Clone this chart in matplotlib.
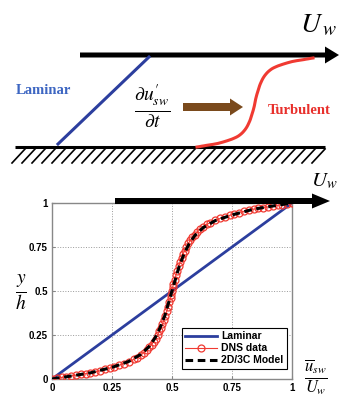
"""Laminar vs turbulent Couette profile: schematic plus DNS / 2D-3C comparison."""

import matplotlib

matplotlib.use("Agg")
import matplotlib.pyplot as plt
from matplotlib.patches import FancyArrow

plt.rcParams["mathtext.fontset"] = "stix"

# mean velocity profiles, u_sw/U_w vs y/h
laminar_u = [0.0, 1.0]
laminar_y = [0.0, 1.0]

dns_u = [0, 0.02, 0.04, 0.06, 0.08, 0.10, 0.12, 0.14, 0.16, 0.18, 0.2, 0.22, 0.24, 0.26,
         0.28, 0.30, 0.32, 0.34, 0.355, 0.37, 0.383, 0.395, 0.405, 0.415, 0.424, 0.432,
         0.44, 0.447, 0.454, 0.46, 0.466, 0.472, 0.478, 0.484, 0.489, 0.494, 0.497, 0.5,
         0.503, 0.506, 0.511, 0.516, 0.522, 0.528, 0.534, 0.54, 0.546, 0.553, 0.56,
         0.568, 0.576, 0.585, 0.595, 0.605, 0.617, 0.63, 0.645, 0.66, 0.68, 0.70, 0.72,
         0.74, 0.76, 0.78, 0.80, 0.82, 0.84, 0.86, 0.88, 0.90, 0.92, 0.94, 0.96, 0.98,
         1.0]
dns_y = [0, 0.004, 0.009, 0.013, 0.018, 0.022, 0.026, 0.03, 0.035, 0.04, 0.047, 0.054,
         0.062, 0.07, 0.079, 0.088, 0.099, 0.111, 0.122, 0.136, 0.15, 0.165, 0.18, 0.196,
         0.213, 0.23, 0.25, 0.27, 0.29, 0.31, 0.335, 0.36, 0.385, 0.41, 0.435, 0.46, 0.48,
         0.5, 0.52, 0.54, 0.565, 0.59, 0.615, 0.64, 0.665, 0.69, 0.71, 0.73, 0.75, 0.77,
         0.787, 0.804, 0.82, 0.835, 0.85, 0.864, 0.878, 0.889, 0.901, 0.912, 0.921, 0.93,
         0.938, 0.946, 0.953, 0.96, 0.965, 0.97, 0.974, 0.978, 0.982, 0.987, 0.991, 0.996,
         1.0]

model_u = [0, 0.08, 0.16, 0.25, 0.32, 0.37, 0.405, 0.43, 0.45, 0.47, 0.485, 0.5, 0.515,
           0.53, 0.55, 0.57, 0.595, 0.63, 0.68, 0.75, 0.84, 0.92, 1.0]
model_y = [0, 0.017, 0.035, 0.066, 0.1, 0.14, 0.185, 0.235, 0.29, 0.36, 0.43, 0.5, 0.57,
           0.64, 0.71, 0.765, 0.815, 0.86, 0.9, 0.932, 0.965, 0.983, 1.0]

ticks = [0, 0.25, 0.5, 0.75, 1]
tick_labels = ["0", "0.25", "0.5", "0.75", "1"]
legend_labels = ["Laminar", "DNS data", "2D/3C Model"]

BLUE = "#2c3e9e"
RED = "#f03a32"
BROWN = "#7a4a1c"
SANS = "Liberation Sans"

W, H = 339, 403


def _px_axes(fig, left, top, right, bottom):
    return fig.add_axes([left / W, 1 - bottom / H, (right - left) / W, (bottom - top) / H])


def draw_schematic(ax):
    # moving wall arrow and stationary wall
    ax.add_patch(FancyArrow(80, 55, 259, 0, width=5, head_width=17, head_length=14,
                            length_includes_head=True, color="black", lw=0))
    ax.text(300, 24, r"$U_{\,w}$", fontsize=20, ha="left", va="center")
    ax.plot([15, 325], [146.5, 146.5], color="black", lw=2.2, solid_capstyle="butt")
    for x0 in range(12, 315, 10):
        ax.plot([x0, x0 + 13], [163, 149], color="black", lw=1.2)

    # laminar profile
    ax.plot([58, 149], [144, 57], color=BLUE, lw=2.2)
    ax.text(43, 90, "Laminar", color="#3d66c2", fontsize=10.5, fontweight="bold",
            family="Liberation Serif", ha="center", va="center")

    # perturbation term and arrow
    ax.text(152, 107, r"$\frac{\partial u^{\prime}_{sw}}{\partial t}$", fontsize=20,
            ha="center", va="center")
    ax.add_patch(FancyArrow(183, 107, 60, 0, width=8, head_width=17, head_length=13,
                            length_includes_head=True, color=BROWN, lw=0))

    # turbulent profile, same DNS curve mapped onto the sketch
    sx = [197 + 116 * u for u in dns_u]
    sy = [147 - 89 * y for y in dns_y]
    ax.plot(sx, sy, color=RED, lw=2.2)
    ax.text(299, 111, "Turbulent", color="#e8302c", fontsize=10.5, fontweight="bold",
            family="Liberation Serif", ha="center", va="center")


def draw_profiles(ax):
    ax.plot(laminar_u, laminar_y, color=BLUE, lw=2, label=legend_labels[0], zorder=2)
    ax.plot(dns_u, dns_y, color=RED, lw=0.8, marker="o", ms=5, mfc="none",
            mec=RED, mew=0.9, label=legend_labels[1], zorder=3)
    ax.plot(model_u, model_y, color="black", lw=2.2, ls=(0, (2.5, 1.5)),
            label=legend_labels[2], zorder=4)
    ax.set_xlim(0, 1)
    ax.set_ylim(0, 1)
    ax.set_xticks(ticks)
    ax.set_yticks(ticks)
    ax.set_xticklabels(tick_labels, fontsize=7, fontweight="bold", family=SANS)
    ax.set_yticklabels(tick_labels, fontsize=7, fontweight="bold", family=SANS)
    ax.tick_params(length=2, direction="in", pad=3, color="#888888")
    ax.grid(True, ls=":", color="#999999", lw=0.7)
    for spine in ax.spines.values():
        spine.set_color("#888888")
        spine.set_linewidth(1.0)
    leg = ax.legend(loc="lower right", bbox_to_anchor=(1.0, 0.03),
                    prop={"weight": "bold", "size": 7.5, "family": SANS},
                    handlelength=3.1, borderpad=0.3, labelspacing=0.2,
                    handletextpad=0.4, fancybox=False, framealpha=1)
    leg.get_frame().set_edgecolor("black")
    leg.get_frame().set_linewidth(0.8)


def main():
    fig = plt.figure(figsize=(W / 100, H / 100), dpi=100)
    plot_ax = _px_axes(fig, 52, 203, 292, 379)
    draw_profiles(plot_ax)

    overlay = fig.add_axes([0, 0, 1, 1], zorder=5)
    overlay.set_xlim(0, W)
    overlay.set_ylim(H, 0)
    overlay.axis("off")
    overlay.patch.set_alpha(0)
    draw_schematic(overlay)

    # top wall arrow over the plot, axis labels
    overlay.add_patch(FancyArrow(115, 201, 215, 0, width=6, head_width=15, head_length=18,
                                 length_includes_head=True, color="black", lw=0))
    overlay.text(338, 181, r"$U_w$", fontsize=15, ha="right", va="center")
    overlay.text(21, 292, r"$\frac{y}{h}$", fontsize=20, ha="center", va="center")
    overlay.text(316, 377, r"$\frac{\overline{u}_{sw}}{U_w}$", fontsize=17,
                 ha="center", va="center")

    fig.savefig("out.png", dpi=100)
    plt.close(fig)


if __name__ == "__main__":
    main()
